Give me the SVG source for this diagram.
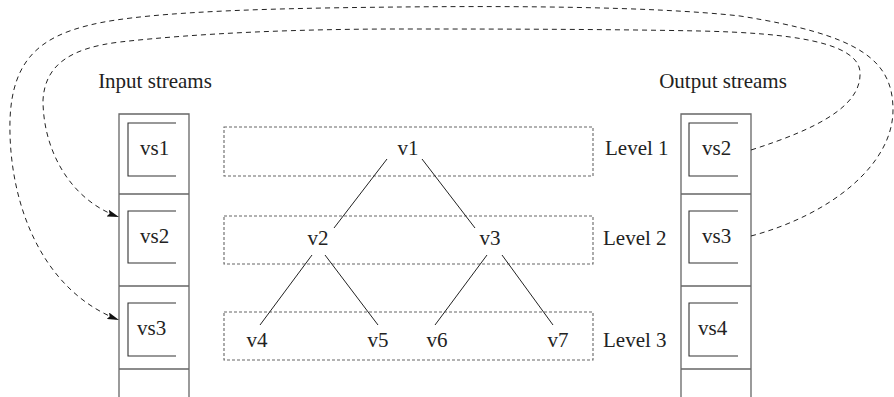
<svg xmlns="http://www.w3.org/2000/svg" width="894" height="397" viewBox="0 0 894 397">
<style>
text{font-family:"Liberation Serif","DejaVu Serif",serif;font-size:21px;fill:#222}
.col{fill:none;stroke:#666;stroke-width:1.3}
.box{fill:none;stroke:#333;stroke-width:1.1}
.lvl{fill:none;stroke:#666;stroke-width:1.1;stroke-dasharray:3 2}
.edge{stroke:#222;stroke-width:1}
.loop{fill:none;stroke:#222;stroke-width:1;stroke-dasharray:5 4}
</style>
<defs>
<marker id="ah" viewBox="0 0 12 7" refX="12" refY="3.5" markerWidth="12" markerHeight="7" markerUnits="userSpaceOnUse" orient="auto">
<path d="M0,0 L12,3.5 L0,7 L2,3.5 Z" fill="#111"/>
</marker>
</defs>
<g id="input-streams" font-family="Liberation Serif, serif">
<text x="155" y="88" text-anchor="middle">Input streams</text>
<path class="col" d="M119,397 V114 H189 V397 M119,194 H189 M119,286 H189 M119,369 H189"/>
<g id="in-vs1"><path class="box" d="M176,123 H128 V176 H176"/><text x="140" y="155">vs1</text></g>
<g id="in-vs2"><path class="box" d="M176,211 H128 V263 H176"/><text x="140" y="243">vs2</text></g>
<g id="in-vs3"><path class="box" d="M176,303 H128 V356 H176"/><text x="137" y="335">vs3</text></g>
</g>
<g id="output-streams">
<text x="723" y="88" text-anchor="middle">Output streams</text>
<path class="col" d="M681,397 V114 H751 V397 M681,194 H751 M681,286 H751 M681,369 H751"/>
<g id="out-vs2"><path class="box" d="M738,123 H689 V176 H738"/><text x="702" y="155">vs2</text></g>
<g id="out-vs3"><path class="box" d="M738,211 H689 V263 H738"/><text x="702" y="243">vs3</text></g>
<g id="out-vs4"><path class="box" d="M738,303 H689 V356 H738"/><text x="698" y="335">vs4</text></g>
</g>
<g id="levels">
<g id="level1"><rect class="lvl" x="224" y="127" width="369" height="49"/><text x="605" y="155">Level 1</text></g>
<g id="level2"><rect class="lvl" x="224" y="216" width="369" height="48"/><text x="603" y="245">Level 2</text></g>
<g id="level3"><rect class="lvl" x="224" y="312" width="369" height="48"/><text x="603" y="347">Level 3</text></g>
</g>
<g id="nodes">
<g id="v1"><text x="408" y="155" text-anchor="middle">v1</text></g>
<g id="v2"><text x="318" y="245" text-anchor="middle">v2</text></g>
<g id="v3"><text x="490" y="245" text-anchor="middle">v3</text></g>
<g id="v4"><text x="257" y="347" text-anchor="middle">v4</text></g>
<g id="v5"><text x="378" y="347" text-anchor="middle">v5</text></g>
<g id="v6"><text x="437" y="347" text-anchor="middle">v6</text></g>
<g id="v7"><text x="558" y="347" text-anchor="middle">v7</text></g>
</g>
<g id="connectors">
<line class="edge" x1="387" y1="159" x2="334" y2="228"/>
<line class="edge" x1="422" y1="159" x2="475" y2="228"/>
<line class="edge" x1="312" y1="255" x2="260" y2="325"/>
<line class="edge" x1="325" y1="255" x2="378" y2="325"/>
<line class="edge" x1="487" y1="255" x2="435" y2="325"/>
<line class="edge" x1="502" y1="255" x2="553" y2="325"/>
<path class="loop" marker-end="url(#ah)" d="M751,150 C820,128 862,105 860,72 C858,42 790,33 700,31 C600,29 480,29 400,29 C300,29 200,33 120,42 C70,48 45,65 43,100 C43,150 70,200 119,217"/>
<path class="loop" marker-end="url(#ah)" d="M751,236 C830,215 893,165 893,110 C893,60 860,35 740,16 C650,6 500,6 400,7 C300,8 150,10 90,25 C40,37 12,60 10,120 C8,200 40,290 119,320"/>
</g>
</svg>
